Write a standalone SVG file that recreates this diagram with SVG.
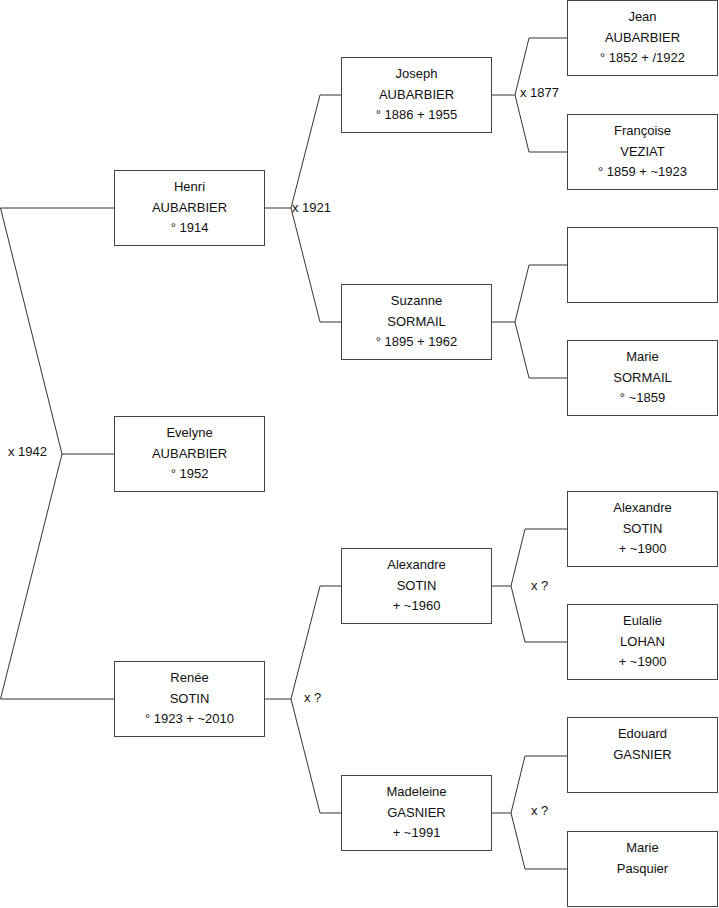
<svg xmlns="http://www.w3.org/2000/svg" width="719" height="908" viewBox="0 0 719 908">
<style>
.box{fill:#fff;stroke:#444;stroke-width:1}
.ln{fill:none;stroke:#333;stroke-width:1}
text{font-family:"Liberation Sans",Arial,sans-serif;font-size:13px;fill:#111}
.c{text-anchor:middle}
</style>
<rect width="719" height="908" fill="#fff"/>
<g id="connectors">
<path class="ln" d="M0.5,208 H114.5 M0.5,208 L62,454 L0.5,699 H114.5 M62,454 H114.5"/>
<path class="ln" d="M264.5,208 H291 M341.5,95 H320 L291,208 L320,322 H341.5"/>
<path class="ln" d="M491.5,95 H515 M567.5,38 H529 L515,95 L529,152 H567.5"/>
<path class="ln" d="M491.5,322 H515 M567.5,265 H529 L515,322 L529,378 H567.5"/>
<path class="ln" d="M264.5,699 H291 M341.5,586 H320 L291,699 L320,813 H341.5"/>
<path class="ln" d="M491.5,586 H511 M567.5,529 H525 L511,586 L525,642 H567.5"/>
<path class="ln" d="M491.5,813 H511 M567.5,756 H525 L511,813 L525,869 H567.5"/>
<text x="8" y="456">x 1942</text>
<text x="292" y="212">x 1921</text>
<text x="520" y="97">x 1877</text>
<text x="304" y="702">x ?</text>
<text x="531" y="590">x ?</text>
<text x="531" y="815">x ?</text>
</g>
<g id="henri"><rect class="box" x="114.5" y="170.5" width="150" height="75"/><text class="c" x="189.5" y="191">Henri</text><text class="c" x="189.5" y="211.5">AUBARBIER</text><text class="c" x="189.5" y="231.5">° 1914</text></g>
<g id="evelyne"><rect class="box" x="114.5" y="416.5" width="150" height="75"/><text class="c" x="189.5" y="437">Evelyne</text><text class="c" x="189.5" y="457.5">AUBARBIER</text><text class="c" x="189.5" y="477.5">° 1952</text></g>
<g id="renee"><rect class="box" x="114.5" y="661.5" width="150" height="75"/><text class="c" x="189.5" y="682">Renée</text><text class="c" x="189.5" y="702.5">SOTIN</text><text class="c" x="189.5" y="722.5">° 1923 + ~2010</text></g>
<g id="joseph"><rect class="box" x="341.5" y="57.5" width="150" height="75"/><text class="c" x="416.5" y="78">Joseph</text><text class="c" x="416.5" y="98.5">AUBARBIER</text><text class="c" x="416.5" y="118.5">° 1886 + 1955</text></g>
<g id="suzanne"><rect class="box" x="341.5" y="284.5" width="150" height="75"/><text class="c" x="416.5" y="305">Suzanne</text><text class="c" x="416.5" y="325.5">SORMAIL</text><text class="c" x="416.5" y="345.5">° 1895 + 1962</text></g>
<g id="alexandre2"><rect class="box" x="341.5" y="548.5" width="150" height="75"/><text class="c" x="416.5" y="569">Alexandre</text><text class="c" x="416.5" y="589.5">SOTIN</text><text class="c" x="416.5" y="609.5">+ ~1960</text></g>
<g id="madeleine"><rect class="box" x="341.5" y="775.5" width="150" height="75"/><text class="c" x="416.5" y="796">Madeleine</text><text class="c" x="416.5" y="816.5">GASNIER</text><text class="c" x="416.5" y="836.5">+ ~1991</text></g>
<g id="jean"><rect class="box" x="567.5" y="0.5" width="150" height="75"/><text class="c" x="642.5" y="21">Jean</text><text class="c" x="642.5" y="41.5">AUBARBIER</text><text class="c" x="642.5" y="61.5">° 1852 + /1922</text></g>
<g id="francoise"><rect class="box" x="567.5" y="114.5" width="150" height="75"/><text class="c" x="642.5" y="135">Françoise</text><text class="c" x="642.5" y="155.5">VEZIAT</text><text class="c" x="642.5" y="175.5">° 1859 + ~1923</text></g>
<g id="unknown"><rect class="box" x="567.5" y="227.5" width="150" height="75"/></g>
<g id="marie-sormail"><rect class="box" x="567.5" y="340.5" width="150" height="75"/><text class="c" x="642.5" y="361">Marie</text><text class="c" x="642.5" y="381.5">SORMAIL</text><text class="c" x="642.5" y="401.5">° ~1859</text></g>
<g id="alexandre3"><rect class="box" x="567.5" y="491.5" width="150" height="75"/><text class="c" x="642.5" y="512">Alexandre</text><text class="c" x="642.5" y="532.5">SOTIN</text><text class="c" x="642.5" y="552.5">+ ~1900</text></g>
<g id="eulalie"><rect class="box" x="567.5" y="604.5" width="150" height="75"/><text class="c" x="642.5" y="625">Eulalie</text><text class="c" x="642.5" y="645.5">LOHAN</text><text class="c" x="642.5" y="665.5">+ ~1900</text></g>
<g id="edouard"><rect class="box" x="567.5" y="717.5" width="150" height="75"/><text class="c" x="642.5" y="738">Edouard</text><text class="c" x="642.5" y="758.5">GASNIER</text></g>
<g id="marie-pasquier"><rect class="box" x="567.5" y="831.5" width="150" height="75"/><text class="c" x="642.5" y="852">Marie</text><text class="c" x="642.5" y="872.5">Pasquier</text></g>
</svg>
